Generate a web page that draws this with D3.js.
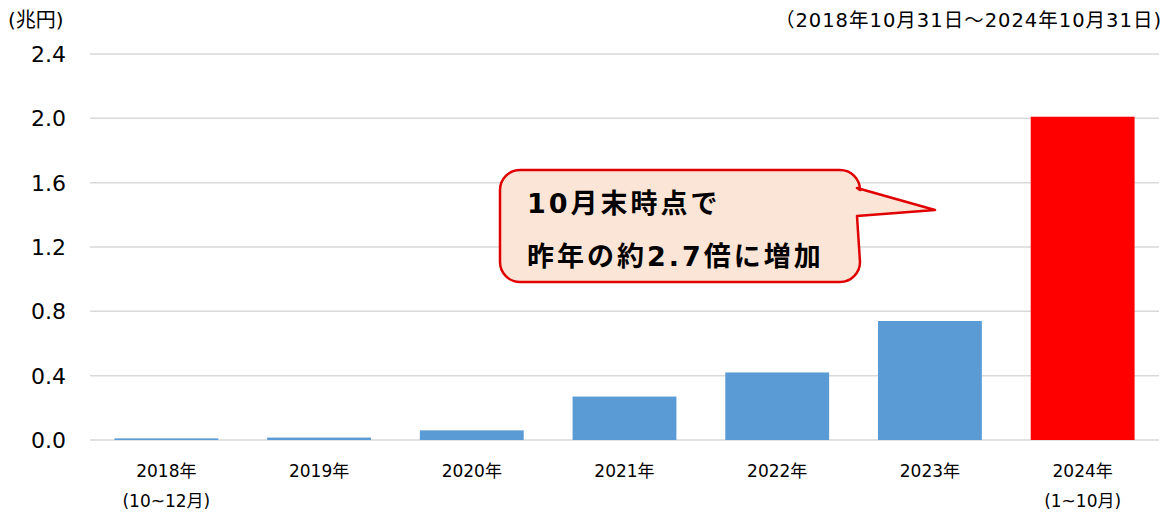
<!DOCTYPE html>
<html>
<head>
<meta charset="utf-8">
<script src="https://cdn.jsdelivr.net/npm/d3@7"></script>
<style>
  body { margin: 0; background: #fff; }
  text { font-family: "DejaVu Sans", "Noto Sans CJK JP", sans-serif; fill: #000; }
</style>
</head>
<body>
<div id="center" style="width:1171px;height:513px"></div>
<script>
const categories = ["2018年", "2019年", "2020年", "2021年", "2022年", "2023年", "2024年"];
const subLabels = ["(10~12月)", "", "", "", "", "", "(1~10月)"];
const values = [0.01, 0.015, 0.06, 0.27, 0.42, 0.74, 2.01];
const yTicks = [0, 0.4, 0.8, 1.2, 1.6, 2.0, 2.4];
const calloutLines = ["10月末時点で", "昨年の約2.7倍に増加"];

let width = 1171, height = 513;
const svg = d3.select("#center").append("svg")
    .attr("width", width)
    .attr("height", height);

let xband = d3.scaleBand().domain(categories).range([90, 1159]).paddingInner(0.32).paddingOuter(0.16);
let ylinear = d3.scaleLinear().domain([0, 2.4]).range([440, 54]);

// grid
svg.append("g").selectAll("line")
    .data(yTicks)
    .enter()
    .append("line")
    .attr("x1", 90).attr("x2", 1159)
    .attr("y1", d => ylinear(d)).attr("y2", d => ylinear(d))
    .attr("stroke", "#d9d9d9").attr("stroke-width", 1.5);

// y labels
svg.append("g").selectAll("text")
    .data(yTicks)
    .enter()
    .append("text")
    .attr("x", 66)
    .attr("y", d => ylinear(d) + 8)
    .attr("text-anchor", "end")
    .style("font-size", "22px")
    .text(d => d3.format(".1f")(d));

// bars
svg.append("g").selectAll("rect")
    .data(values)
    .enter()
    .append("rect")
    .attr("x", (d, i) => xband(categories[i]))
    .attr("width", xband.bandwidth())
    .attr("y", d => ylinear(d))
    .attr("height", d => ylinear(0) - ylinear(d))
    .attr("fill", (d, i) => i == values.length - 1 ? "#ff0000" : "#5b9bd5");

// x labels
let xl = svg.append("g");
xl.selectAll("text.cat")
    .data(categories)
    .enter()
    .append("text")
    .attr("class", "cat")
    .attr("x", d => xband(d) + xband.bandwidth() / 2)
    .attr("y", 477)
    .attr("text-anchor", "middle")
    .style("font-size", "17px")
    .text(d => d);
xl.selectAll("text.sub")
    .data(subLabels)
    .enter()
    .append("text")
    .attr("class", "sub")
    .attr("x", (d, i) => xband(categories[i]) + xband.bandwidth() / 2)
    .attr("y", 507)
    .attr("text-anchor", "middle")
    .style("font-size", "17px")
    .text(d => d);

// unit + period
svg.append("text").attr("x", 8).attr("y", 27).style("font-size", "20px").text("(兆円)");
svg.append("text").attr("x", 1162).attr("y", 27).attr("text-anchor", "end")
    .style("font-size", "19.5px").style("letter-spacing", "1px")
    .text("（2018年10月31日～2024年10月31日)");

// callout
let bx = 500, by = 170, bw = 360, bh = 112, r = 20;
let tip = [935, 210];
let p = d3.path();
p.moveTo(bx + r, by);
p.lineTo(bx + bw - r, by);
p.arcTo(bx + bw, by, bx + bw, by + r, r);
p.lineTo(bx + bw - 3, by + 18);
p.lineTo(tip[0], tip[1]);
p.lineTo(bx + bw - 3, by + 46);
p.lineTo(bx + bw, by + bh - r);
p.arcTo(bx + bw, by + bh, bx + bw - r, by + bh, r);
p.lineTo(bx + r, by + bh);
p.arcTo(bx, by + bh, bx, by + bh - r, r);
p.lineTo(bx, by + r);
p.arcTo(bx, by, bx + r, by, r);
p.closePath();
svg.append("path").attr("d", p.toString())
    .attr("fill", "#fbe5d6").attr("stroke", "#e00000").attr("stroke-width", 2.5)
    .attr("stroke-linejoin", "round");

svg.append("g").selectAll("text")
    .data(calloutLines)
    .enter()
    .append("text")
    .attr("x", 527)
    .attr("y", (d, i) => 213 + i * 53)
    .style("font-size", "27px")
    .style("font-weight", "bold")
    .style("letter-spacing", "3px")
    .text(d => d);
</script>
</body>
</html>
